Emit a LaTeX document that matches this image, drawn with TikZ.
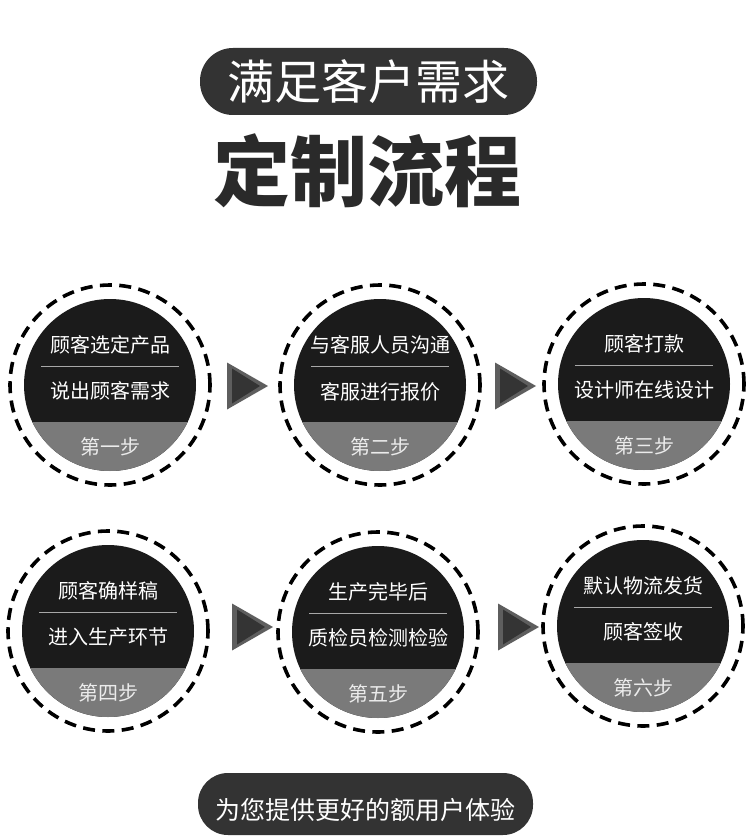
\documentclass[tikz,border=0pt]{standalone}
\usepackage{fontspec}
\setmainfont{Noto Sans CJK SC}
\usepackage{xcolor}
\usetikzlibrary{positioning}

\definecolor{pilldark}{HTML}{333333}
\definecolor{headdark}{HTML}{2A2A2A}
\definecolor{discblack}{HTML}{1B1B1B}
\definecolor{bandgray}{HTML}{7A7A7A}
\definecolor{sepgray}{HTML}{A8A8A8}
\definecolor{triouter}{HTML}{5E5E5E}
\definecolor{triinner}{HTML}{343434}

\begin{document}
\begin{tikzpicture}[
  x=1pt, y=-1pt,
  titlepill/.style={fill=pilldark, text=white, rounded corners=33pt,
    minimum width=337pt, minimum height=67pt, inner sep=0pt,
    font=\fontsize{47pt}{50pt}\selectfont},
  bigtitle/.style={text=headdark, inner sep=0pt,
    font=\fontsize{77pt}{80pt}\selectfont\bfseries},
  footpill/.style={fill=pilldark, text=white, rounded corners=30pt,
    minimum width=335pt, minimum height=62pt, inner sep=0pt,
    text height=33pt, text depth=2pt,
    font=\fontsize{25pt}{28pt}\selectfont},
  ring/.style={circle, draw=black, line width=3.6pt,
    dash pattern=on 12pt off 7.4pt, minimum size=200pt, inner sep=0pt},
  disc/.style={circle, fill=discblack, minimum size=172pt, inner sep=0pt,
    path picture={\fill[bandgray]
      ([yshift=49pt]path picture bounding box.south west)
      rectangle (path picture bounding box.south east);}},
  linetxt/.style={text=white, inner sep=0pt,
    font=\fontsize{20pt}{22pt}\selectfont},
  steptxt/.style={text=white!92!black, inner sep=0pt,
    font=\fontsize{20pt}{22pt}\selectfont},
  sepline/.style={draw=sepgray, line width=1pt},
  outertri/.style={fill=triouter},
  innertri/.style={fill=triinner}
]
  \useasboundingbox[fill=white] (0,0) rectangle (750,837);

  % heading
  \node[titlepill] (head) at (368.5,81.5) {满足客户需求};
  \node[bigtitle] (title) at (367,171) {定制流程};

  % row one
  \node[ring] (c1) at (110,385) {};
  \node[disc] (d1) at (c1) {};
  \node[linetxt] (c1a) at ([yshift=40pt]c1.center) {顾客选定产品};
  \draw[sepline] ([xshift=-69pt,yshift=19pt]c1.center) -- ([xshift=69pt,yshift=19pt]c1.center);
  \node[linetxt] (c1b) at ([yshift=-6pt]c1.center) {说出顾客需求};
  \node[steptxt] (c1s) at ([yshift=-62pt]c1.center) {第一步};

  \node[ring] (c2) at (380,385) {};
  \node[disc] (d2) at (c2) {};
  \node[linetxt] (c2a) at ([yshift=40pt]c2.center) {与客服人员沟通};
  \draw[sepline] ([xshift=-69pt,yshift=19pt]c2.center) -- ([xshift=69pt,yshift=19pt]c2.center);
  \node[linetxt] (c2b) at ([yshift=-7pt]c2.center) {客服进行报价};
  \node[steptxt] (c2s) at ([yshift=-62pt]c2.center) {第二步};

  \node[ring] (c3) at (644,384) {};
  \node[disc] (d3) at (c3) {};
  \node[linetxt] (c3a) at ([yshift=40pt]c3.center) {顾客打款};
  \draw[sepline] ([xshift=-69pt,yshift=19pt]c3.center) -- ([xshift=69pt,yshift=19pt]c3.center);
  \node[linetxt] (c3b) at ([yshift=-6pt]c3.center) {设计师在线设计};
  \node[steptxt] (c3s) at ([yshift=-62pt]c3.center) {第三步};

  % row two
  \node[ring] (c4) at (108,631) {};
  \node[disc] (d4) at (c4) {};
  \node[linetxt] (c4a) at ([yshift=40pt]c4.center) {顾客确样稿};
  \draw[sepline] ([xshift=-69pt,yshift=19pt]c4.center) -- ([xshift=69pt,yshift=19pt]c4.center);
  \node[linetxt] (c4b) at ([yshift=-6pt]c4.center) {进入生产环节};
  \node[steptxt] (c4s) at ([yshift=-62pt]c4.center) {第四步};

  \node[ring] (c5) at (378,632) {};
  \node[disc] (d5) at (c5) {};
  \node[linetxt] (c5a) at ([yshift=40pt]c5.center) {生产完毕后};
  \draw[sepline] ([xshift=-69pt,yshift=19pt]c5.center) -- ([xshift=69pt,yshift=19pt]c5.center);
  \node[linetxt] (c5b) at ([yshift=-6pt]c5.center) {质检员检测检验};
  \node[steptxt] (c5s) at ([yshift=-62pt]c5.center) {第五步};

  \node[ring] (c6) at (643,626) {};
  \node[disc] (d6) at (c6) {};
  \node[linetxt] (c6a) at ([yshift=40pt]c6.center) {默认物流发货};
  \draw[sepline] ([xshift=-69pt,yshift=19pt]c6.center) -- ([xshift=69pt,yshift=19pt]c6.center);
  \node[linetxt] (c6b) at ([yshift=-6pt]c6.center) {顾客签收};
  \node[steptxt] (c6s) at ([yshift=-62pt]c6.center) {第六步};

  % triangles between the steps
  \coordinate (t12) at (227,386);
  \coordinate (t23) at (495,386);
  \coordinate (t45) at (232,627);
  \coordinate (t56) at (498,627);
  \fill[outertri] (t12) -- ++(0,-23.5) -- ++(41,23.5) -- ++(-41,23.5) -- cycle;
  \fill[innertri] ([xshift=5pt]t12) -- ++(0,-17.5) -- ++(28,17.5) -- ++(-28,17.5) -- cycle;
  \fill[outertri] (t23) -- ++(0,-23.5) -- ++(41,23.5) -- ++(-41,23.5) -- cycle;
  \fill[innertri] ([xshift=5pt]t23) -- ++(0,-17.5) -- ++(28,17.5) -- ++(-28,17.5) -- cycle;
  \fill[outertri] (t45) -- ++(0,-23.5) -- ++(41,23.5) -- ++(-41,23.5) -- cycle;
  \fill[innertri] ([xshift=5pt]t45) -- ++(0,-17.5) -- ++(28,17.5) -- ++(-28,17.5) -- cycle;
  \fill[outertri] (t56) -- ++(0,-23.5) -- ++(41,23.5) -- ++(-41,23.5) -- cycle;
  \fill[innertri] ([xshift=5pt]t56) -- ++(0,-17.5) -- ++(28,17.5) -- ++(-28,17.5) -- cycle;

  % footer
  \node[footpill] (foot) at (365.5,804) {为您提供更好的额用户体验};
\end{tikzpicture}
\end{document}
